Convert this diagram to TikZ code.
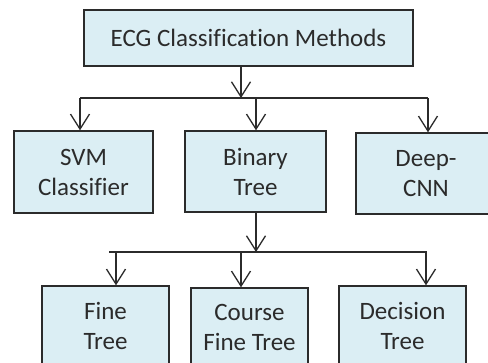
\documentclass[tikz,border=0pt]{standalone}
\usepackage{fontspec}
\setmainfont{Carlito}[Ligatures=CommonOff]
\usetikzlibrary{arrows.meta}
\definecolor{boxfill}{HTML}{DBEEF4}
\definecolor{ink}{HTML}{2B2B2B}
\tikzset{
  box/.style={draw=ink, fill=boxfill, line width=1.4pt, text=ink, align=center,
    font=\fontsize{25}{30}\selectfont, inner sep=0pt},
  link/.style={draw=ink, line width=1.3pt},
  arr/.style={link, -{Straight Barb[length=15pt,width=19pt,line width=1.3pt]}}
}
\begin{document}
\begin{tikzpicture}[x=1pt,y=-1pt]
  \useasboundingbox (0,0) rectangle (488,362);
  \clip (0,0) rectangle (488,362);
  \fill[white] (0,0) rectangle (488,362);
  % root
  \node[box, minimum width=329pt, minimum height=56pt] (root) at (248.5,38) {ECG Classification Methods};
  % first level
  \node[box, minimum width=139pt, minimum height=82pt] (svm) at (83.5,172) {SVM\\Classifier};
  \node[box, minimum width=141pt, minimum height=81pt] (bin) at (255.5,171.5) {Binary\\Tree};
  \node[box, minimum width=140pt, minimum height=81pt] (cnn) at (426,173.5) {Deep-\\CNN};
  % second level
  \node[box, minimum width=127pt, minimum height=80pt] (fine) at (105.5,326) {Fine\\Tree};
  \node[box, minimum width=117pt, minimum height=78pt] (course) at (249.5,327) {Course\\Fine Tree};
  \node[box, minimum width=127pt, minimum height=80pt] (dec) at (402.5,326) {Decision\\Tree};
  % junction points of the two bus lines
  \coordinate (b1) at (241,98);
  \coordinate (b1l) at (80,98);
  \coordinate (b1m) at (256,98);
  \coordinate (b1r) at (428,98);
  \coordinate (b2) at (256,252);
  \coordinate (b2l) at (109,252);
  \coordinate (b2a) at (116,252);
  \coordinate (b2b) at (241,252);
  \coordinate (b2c) at (426,252);
  \coordinate (b2r) at (427,252);
  % root to first level
  \draw[arr] (root.south -| b1) -- (b1);
  \draw[link] (b1l) -- (b1r);
  \draw[arr] (b1l) -- (b1l |- svm.north);
  \draw[arr] (b1m) -- (b1m |- bin.north);
  \draw[arr] (b1r) -- (b1r |- cnn.north);
  % binary tree to second level
  \draw[arr] (bin.south -| b2) -- (b2);
  \draw[link] (b2l) -- (b2r);
  \draw[arr] (b2a) -- (b2a |- fine.north);
  \draw[arr] (b2b) -- (b2b |- course.north);
  \draw[arr] (b2c) -- (b2c |- dec.north);
\end{tikzpicture}
\end{document}
